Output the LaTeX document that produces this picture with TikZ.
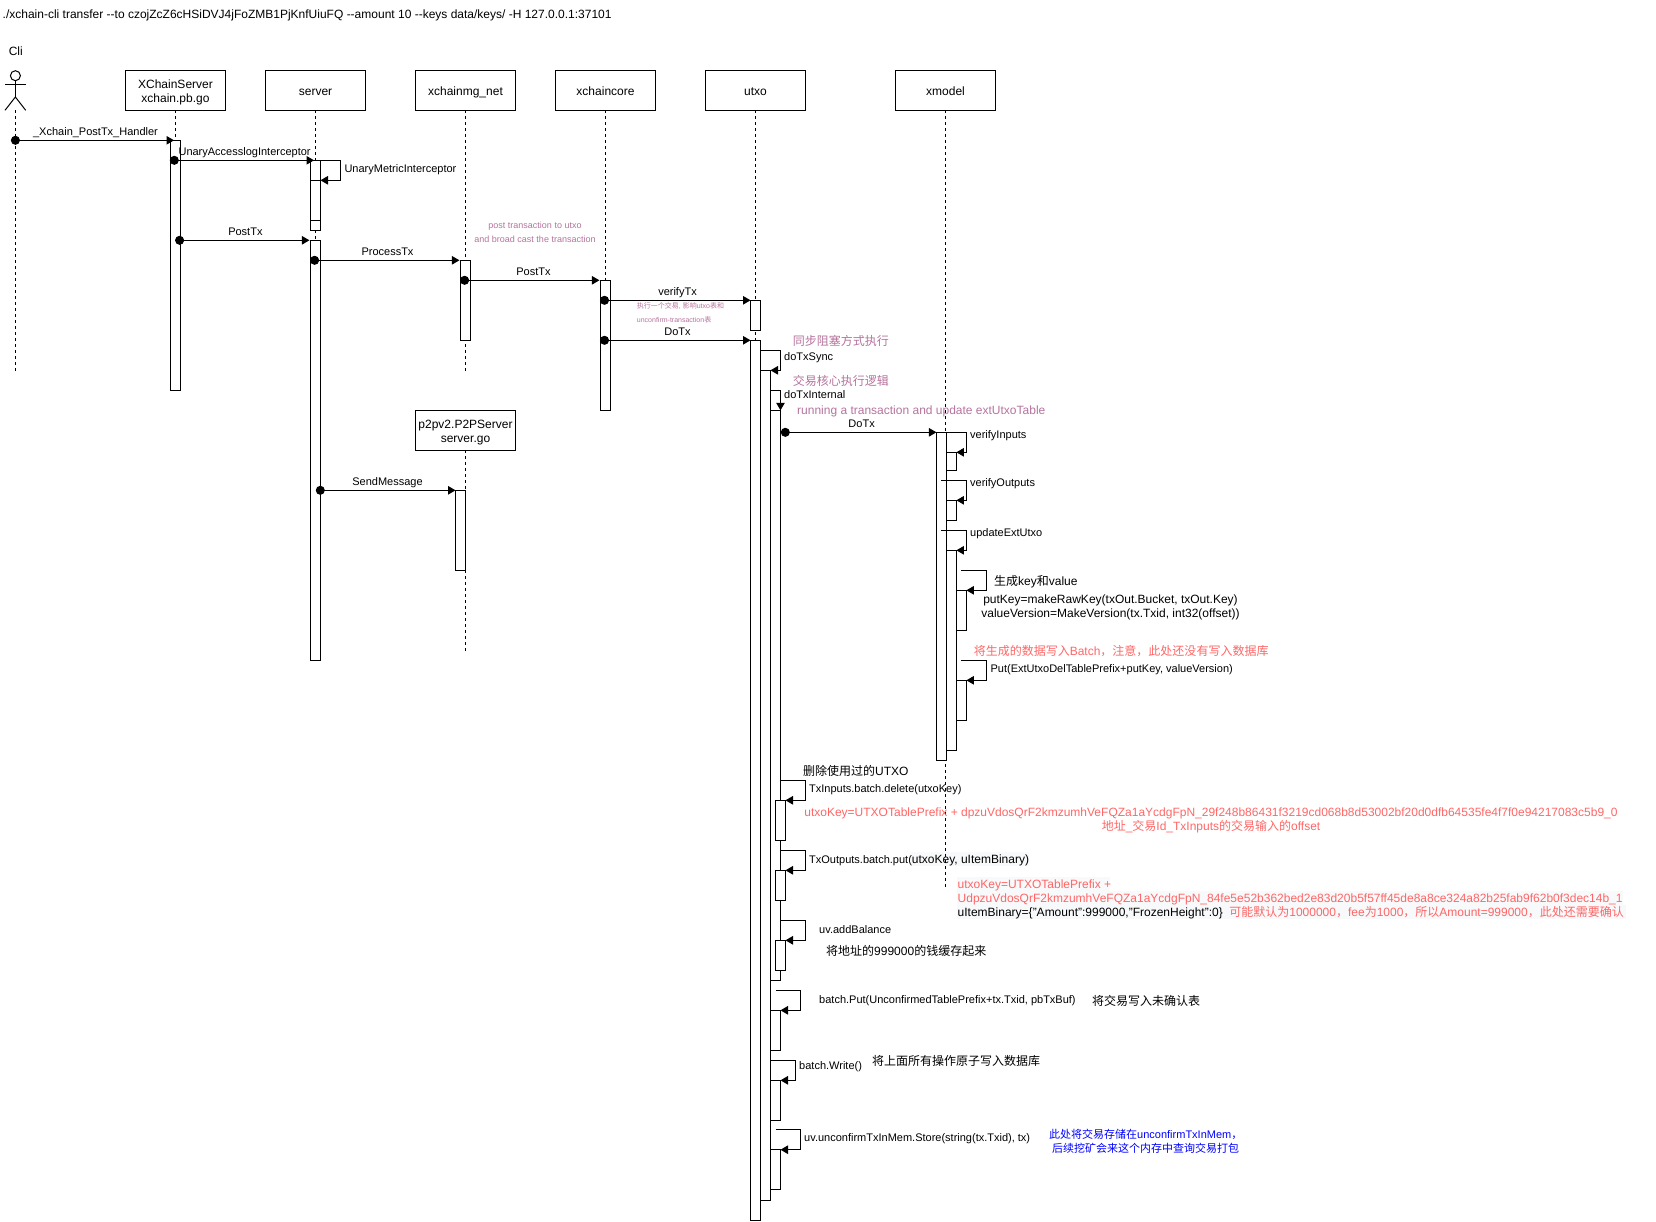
\documentclass[tikz,border=0pt]{standalone}
\usepackage{fontspec}
\setmainfont{Liberation Sans}
\newfontfamily\cjk{Noto Sans CJK SC}
\newcommand{\cn}[1]{{\cjk #1}}
\usetikzlibrary{arrows.meta}
\definecolor{notepink}{HTML}{B5739D}
\definecolor{notered}{HTML}{FF6666}
\definecolor{noteblue}{HTML}{0000FF}
\definecolor{softbg}{HTML}{F8F9FA}
\tikzset{
    lifebox/.style={draw, line width=1pt, fill=white, minimum width=100pt, minimum height=40pt, inner sep=0pt, outer sep=0pt, align=center, text height=12pt, text depth=2pt, font=\fontsize{12}{14}\selectfont},
    twolines/.style={text height=23.5pt, text depth=0pt},
    actbar/.style={draw, line width=1pt, fill=white, minimum width=10pt, inner sep=0pt, outer sep=0pt, anchor=north},
    lifeline/.style={line width=1pt, dash pattern=on 3pt off 3pt},
    msg/.style={line width=1pt, {Circle[length=9pt]}-{Triangle[length=7.5pt,width=8.5pt]}, shorten <=-4.5pt},
    selfcall/.style={line width=1pt, -{Triangle[length=7.5pt,width=8.5pt]}},
    txt/.style={inner sep=0pt, anchor=mid west, yshift=-2pt, font=\fontsize{11}{14}\selectfont},
    ctxt/.style={txt, anchor=mid},
    big/.style={font=\fontsize{12}{14}\selectfont},
    pinknote/.style={text=notepink, font=\fontsize{12}{14}\selectfont},
    rednote/.style={text=notered, font=\fontsize{12}{14}\selectfont},
}
\begin{document}
\begin{tikzpicture}[x=1pt, y=-1pt]
    \useasboundingbox (0,0) rectangle (1656,1221);

    % Light background behind the pasted text
    \fill[softbg] (957,877) rectangle (1110,891);
    \fill[softbg] (957,891) rectangle (1623,905);
    \fill[softbg] (957,905) rectangle (1626,919);
    \fill[softbg] (909.6,852) rectangle (1029,866);

    % Title and actor
    \node[txt, big] (title) at (2.5,14) {./xchain-cli transfer -{}-to czojZcZ6cHSiDVJ4jFoZMB1PjKnfUiuFQ -{}-amount 10 -{}-keys data/keys/ -H 127.0.0.1:37101};
    \node[txt, big] (cliLabel) at (8.6,50.5) {Cli};
    \node[draw, circle, line width=1pt, minimum size=10pt, inner sep=0pt, outer sep=0pt] (cliHead) at (15.4,75.7) {};
    \coordinate (cliHip) at (15.4,97);
    \coordinate (cliFootL) at (5,110.3);
    \coordinate (cliFootR) at (25.7,110.3);
    \coordinate (cliFoot) at (15.4,110.3);
    \coordinate (cliArmL) at (5,84);
    \coordinate (cliArmR) at (25.7,84);
    \coordinate (cliEnd) at (15.4,371);
    \draw[line width=1pt] (cliHead.south) -- (cliHip);
    \draw[line width=1pt] (cliArmL) -- (cliArmR);
    \draw[line width=1pt] (cliFootL) -- (cliHip) -- (cliFootR);

    % Lifeline heads
    \node[lifebox, twolines] (xcs) at (175.5,90.3) {XChainServer\\xchain.pb.go};
    \node[lifebox] (server) at (315.5,90.3) {server};
    \node[lifebox] (mgnet) at (465.5,90.3) {xchainmg\_net};
    \node[lifebox] (core) at (605.5,90.3) {xchaincore};
    \node[lifebox] (utxo) at (755.5,90.3) {utxo};
    \node[lifebox] (xmodel) at (945.5,90.3) {xmodel};
    \node[lifebox, twolines] (p2p) at (465.5,430.3) {p2pv2.P2PServer\\server.go};

    % Lifeline ends
    \coordinate (serverEnd) at (315.5,660);
    \coordinate (mgnetEnd) at (465.5,371);
    \coordinate (coreEnd) at (605.5,371);
    \coordinate (utxoEnd) at (755.5,400);
    \coordinate (xmodelEnd) at (945.5,888);
    \coordinate (p2pEnd) at (465.5,651);
    \coordinate (xcsEnd) at (175.5,300);

    \draw[lifeline] (cliFoot) -- (cliEnd);
    \draw[lifeline] (xcs.south) -- (xcsEnd);
    \draw[lifeline] (server.south) -- (serverEnd);
    \draw[lifeline] (mgnet.south) -- (mgnetEnd);
    \draw[lifeline] (core.south) -- (coreEnd);
    \draw[lifeline] (utxo.south) -- (utxoEnd);
    \draw[lifeline] (xmodel.south) -- (xmodelEnd);
    \draw[lifeline] (p2p.south) -- (p2pEnd);

    % Activation bars, left part
    \node[actbar, minimum height=250pt] (xcsBar) at (175.5,140.3) {};
    \node[actbar, minimum height=60pt] (srvBarA) at (315.5,160.3) {};
    \node[actbar, minimum height=50pt] (srvBarB) at (315.5,180.3) {};
    \draw[line width=1pt] (srvBarA.south west) -- (srvBarA.south east);
    \node[actbar, minimum height=420pt] (srvBarC) at (315.5,240.3) {};
    \node[actbar, minimum height=80pt] (mgBar) at (465.5,260.3) {};
    \node[actbar, minimum height=130pt] (coreBar) at (605.5,280.3) {};
    \node[actbar, minimum height=80pt] (p2pBar) at (460.5,490.3) {};

    % Activation bars, utxo
    \node[actbar, minimum height=30pt] (utxoBarA) at (755.5,300.3) {};
    \node[actbar, minimum height=880pt] (utxoBarB) at (755.5,340.3) {};
    \node[actbar, minimum height=830pt] (utxoBarC) at (765.5,370.3) {};
    \node[actbar, minimum height=570pt] (utxoBarD) at (775.5,410.3) {};
    \node[actbar, minimum height=40pt] (delBar) at (780.5,800.3) {};
    \node[actbar, minimum height=30pt] (putBar) at (780.5,870.3) {};
    \node[actbar, minimum height=30pt] (balBar) at (780.5,940.3) {};
    \node[actbar, minimum height=40pt] (batchBar) at (775.5,1010.3) {};
    \node[actbar, minimum height=40pt] (writeBar) at (775.5,1080.3) {};
    \node[actbar, minimum height=40pt] (storeBar) at (775.5,1149.7) {};

    % Activation bars, xmodel
    \node[actbar, minimum height=328pt] (modelBar) at (941.4,432.3) {};
    \node[actbar, minimum height=18pt] (inBar) at (951.4,452.3) {};
    \node[actbar, minimum height=20pt] (outBar) at (951.4,500.3) {};
    \node[actbar, minimum height=200pt] (extBar) at (951.4,550.3) {};
    \node[actbar, minimum height=40pt] (keyBar) at (961.4,590.3) {};
    \node[actbar, minimum height=40pt] (cacheBar) at (961.4,680.3) {};

    % Start points of the messages
    \coordinate (m1) at (15.4,140.3);
    \coordinate (m1end) at (174,140.3);
    \coordinate (m2) at (174.3,160.3);
    \coordinate (m2end) at (314,160.3);
    \coordinate (m3) at (179.6,240.3);
    \coordinate (m3end) at (309.4,240.3);
    \coordinate (m4) at (314.6,260.3);
    \coordinate (m4end) at (459.4,260.3);
    \coordinate (m5) at (464.6,280.3);
    \coordinate (m5end) at (599.4,280.3);
    \coordinate (m6) at (604.5,300.3);
    \coordinate (m7) at (604.5,340.3);
    \coordinate (m8) at (785.3,432.3);
    \coordinate (m9) at (320.3,490.3);

    % Messages
    \draw[msg] (m1) -- (m1end);
    \draw[msg] (m2) -- (m2end);
    \draw[msg] (m3) -- (m3end);
    \draw[msg] (m4) -- (m4end);
    \draw[msg] (m5) -- (m5end);
    \draw[msg] (m6) -- (utxoBarA.north west);
    \draw[msg] (m7) -- (utxoBarB.north west);
    \draw[msg] (m8) -- (modelBar.north west);
    \draw[msg] (m9) -- (p2pBar.north west);

    % Start points of the self calls
    \coordinate (syncStart) at (760.5,350.3);
    \coordinate (internalStart) at (770.5,390.3);
    \coordinate (outStart) at (941.4,480.3);
    \coordinate (extStart) at (941.4,530.3);
    \coordinate (keyStart) at (961.4,570.3);
    \coordinate (cacheStart) at (961.4,660.3);
    \coordinate (delStart) at (780.5,780.3);
    \coordinate (putStart) at (780.5,850.3);
    \coordinate (balStart) at (780.5,920.3);
    \coordinate (batchStart) at (775.5,990.3);
    \coordinate (writeStart) at (770.5,1060.3);
    \coordinate (storeStart) at (775.5,1129.7);

    % Self calls
    \draw[selfcall] (srvBarA.north east) -- ++(20,0) |- (srvBarB.north east);
    \draw[selfcall] (syncStart) -- ++(20,0) |- (utxoBarC.north east);
    \draw[selfcall] (internalStart) -| (utxoBarD.north east);
    \draw[selfcall] (modelBar.north east) -- ++(20,0) |- (inBar.north east);
    \draw[selfcall] (outStart) -- ++(25,0) |- (outBar.north east);
    \draw[selfcall] (extStart) -- ++(25,0) |- (extBar.north east);
    \draw[selfcall] (keyStart) -- ++(25.4,0) |- (keyBar.north east);
    \draw[selfcall] (cacheStart) -- ++(25.4,0) |- (cacheBar.north east);
    \draw[selfcall] (delStart) -- ++(25,0) |- (delBar.north east);
    \draw[selfcall] (putStart) -- ++(25,0) |- (putBar.north east);
    \draw[selfcall] (balStart) -- ++(25,0) |- (balBar.north east);
    \draw[selfcall] (batchStart) -- ++(25,0) |- (batchBar.north east);
    \draw[selfcall] (writeStart) -- ++(25,0) |- (writeBar.north east);
    \draw[selfcall] (storeStart) -- ++(25,0) |- (storeBar.north east);

    % Message labels
    \node[ctxt] (lblHandler) at (95.5,131.3) {\_Xchain\_PostTx\_Handler};
    \node[ctxt] (lblAccess) at (244.6,151.3) {UnaryAccesslogInterceptor};
    \node[txt] (lblMetric) at (344.3,168.3) {UnaryMetricInterceptor};
    \node[ctxt] (lblPost) at (245.4,231.3) {PostTx};
    \node[ctxt] (lblProcess) at (387.5,251.3) {ProcessTx};
    \node[ctxt] (lblPostCore) at (533.5,271.3) {PostTx};
    \node[ctxt] (lblVerify) at (677.5,291) {verifyTx};
    \node[ctxt] (lblDoTx) at (677.5,331.3) {DoTx};
    \node[ctxt] (lblSend) at (387.5,480.7) {SendMessage};
    \node[txt] (lblSync) at (784,356.3) {doTxSync};
    \node[txt] (lblInternal) at (784,394.3) {doTxInternal};
    \node[ctxt] (lblDoTxModel) at (861.6,423.3) {DoTx};
    \node[txt] (lblIn) at (970,434.3) {verifyInputs};
    \node[txt] (lblOut) at (970,482.3) {verifyOutputs};
    \node[txt] (lblExt) at (970,532.3) {updateExtUtxo};
    \node[txt] (lblCache) at (990.4,668.3) {Put(ExtUtxoDelTablePrefix+putKey, valueVersion)};
    \node[txt] (lblDel) at (809,788.3) {TxInputs.batch.delete(utxoKey)};
    \node[txt] (lblPut) at (809,859) {TxOutputs.batch.put({\fontsize{12}{14}\selectfont utxoKey, uItemBinary)}};
    \node[txt] (lblBal) at (819,929.3) {uv.addBalance};
    \node[txt] (lblBatch) at (819,999) {batch.Put(UnconfirmedTablePrefix+tx.Txid, pbTxBuf)};
    \node[txt] (lblWrite) at (799,1065.3) {batch.Write()};
    \node[txt] (lblStore) at (804,1137.3) {uv.unconfirmTxInMem.Store(string(tx.Txid), tx)};

    % Pink notes
    \node[ctxt, text=notepink, font=\fontsize{9}{14}\selectfont, align=center] (notePost) at (535,238) {post transaction to utxo\\and broad cast the transaction};
    \node[ctxt, text=notepink, font=\fontsize{7}{14}\selectfont, align=left] (noteExec) at (680.5,318) {\cn{执行一个交易}, \cn{影响}utxo\cn{表和}\\unconfirm-transaction\cn{表}};
    \node[txt, pinknote] (noteSync) at (792.7,340.7) {\cn{同步阻塞方式执行}};
    \node[txt, pinknote] (noteCore) at (792.7,380.7) {\cn{交易核心执行逻辑}};
    \node[txt, pinknote] (noteRun) at (797,410) {running a transaction and update extUtxoTable};

    % Notes on the right
    \node[txt, big] (noteKey) at (994,580.7) {\cn{生成}key\cn{和}value};
    \node[ctxt, big, align=center] (noteMake) at (1110.5,612.7) {putKey=makeRawKey(txOut.Bucket, txOut.Key)\\valueVersion=MakeVersion(tx.Txid, int32(offset))};
    \node[txt, rednote] (noteBatch) at (973.6,650.7) {\cn{将生成的数据写入}Batch\cn{，注意，此处还没有写入数据库}};
    \node[txt, big] (noteUsed) at (802.9,770.7) {\cn{删除使用过的}UTXO};
    \node[ctxt, rednote, align=center] (noteInKey) at (1211,826) {utxoKey=UTXOTablePrefix + dpzuVdosQrF2kmzumhVeFQZa1aYcdgFpN\_29f248b86431f3219cd068b8d53002bf20d0dfb64535fe4f7f0e94217083c5b9\_0\\\cn{地址}\_\cn{交易}Id\_TxInputs\cn{的交易输入的}offset};
    \node[txt, rednote, align=left] (noteOutKey) at (957.5,912) {utxoKey=UTXOTablePrefix +\\UdpzuVdosQrF2kmzumhVeFQZa1aYcdgFpN\_84fe5e52b362bed2e83d20b5f57ff45de8a8ce324a82b25fab9f62b0f3dec14b\_1\\{\color{black}uItemBinary=\{"Amount":999000,"FrozenHeight":0\}}\hspace{6.5pt}\cn{可能默认为}1000000\cn{，}fee\cn{为}1000\cn{，所以}Amount=999000\cn{，此处还需要确认}};
    \node[txt, big] (noteCacheBal) at (826,950.7) {\cn{将地址的}999000\cn{的钱缓存起来}};
    \node[txt, big] (noteUnconf) at (1091.8,1000.7) {\cn{将交易写入未确认表}};
    \node[txt, big] (noteAtomic) at (872,1061) {\cn{将上面所有操作原子写入数据库}};
    \node[txt, text=noteblue, align=left] (noteMem) at (1049,1148.3) {\cn{此处将交易存储在}unconfirmTxInMem\cn{，}\\\hspace*{2.8pt}\cn{后续挖矿会来这个内存中查询交易打包}};
\end{tikzpicture}
\end{document}
